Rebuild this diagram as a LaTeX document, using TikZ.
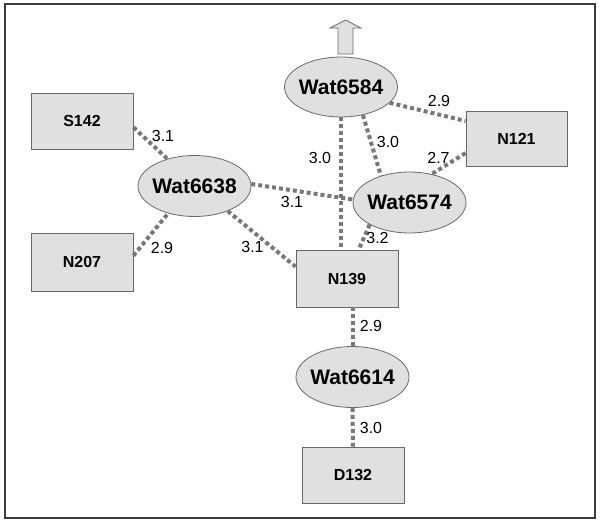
\documentclass[tikz,border=0pt]{standalone}
\usepackage{fontspec}
\setmainfont{Liberation Sans}
\usetikzlibrary{shapes.geometric}
\definecolor{boxfill}{RGB}{224,224,224}
\definecolor{boxline}{RGB}{105,105,105}
\definecolor{conncol}{RGB}{120,120,120}
\definecolor{framecol}{RGB}{60,60,60}
\newcommand\wlab[1]{\makebox[0pt]{#1}}
\begin{document}
\begin{tikzpicture}[x=1pt,y=-1pt,
  resbox/.style={draw=boxline, fill=boxfill, line width=0.8pt, minimum width=102pt, minimum height=56pt, inner sep=0pt, font=\fontsize{16}{19}\selectfont\bfseries},
  water/.style={ellipse, draw=boxline, fill=boxfill, line width=0.8pt, minimum width=113pt, minimum height=61pt, inner sep=0pt, font=\fontsize{21}{25}\selectfont\bfseries},
  conn/.style={draw=conncol, line width=4pt, dash pattern=on 4pt off 3pt},
  dist/.style={inner sep=0pt, font=\fontsize{16}{19}\selectfont}]
\useasboundingbox (0,0) rectangle (601,524);
\draw[framecol, line width=2pt] (4.5,4.5) rectangle (594.5,517.5);

% up arrow
\draw[boxline, fill=boxfill, line width=0.8pt] (338,54) -- (338,28) -- (330,28) -- (345.5,20) -- (361,28) -- (353,28) -- (353,54) -- cycle;

% residues
\node[resbox] (s142) at (82,121) {S142};
\node[resbox, minimum height=58pt] (n207) at (82,262) {N207};
\node[resbox, minimum width=101pt, minimum height=55pt] (n121) at (516.5,138.5) {N121};
\node[resbox, minimum height=57pt] (n139) at (347,278.5) {N139};
\node[resbox] (d132) at (353,475) {D132};

% waters
\node[water, minimum height=60pt] (w6584) at (341,87) {\wlab{Wat6584}};
\node[water] (w6638) at (194.5,186) {\wlab{Wat6638}};
\node[water] (w6574) at (409.5,202.5) {\wlab{Wat6574}};
\node[water] (w6614) at (352.5,377) {\wlab{Wat6614}};

% connectors
\draw[conn] (s142.-7.8) -- (w6638.135.5);
\draw[conn] (n207.7.8) -- (w6638.226.5);
\draw[conn] (w6638.2) -- (w6574.177.5);
\draw[conn] (w6638.-37.8) -- (n139.167.3);
\draw[conn] (w6584.south) -- (w6584.south |- n139.north);
\draw[conn] (w6584.-52) -- (w6574.137);
\draw[conn] (w6584.-18.4) -- (n121.161.9);
\draw[conn] (n121.196) -- (w6574.52.7);
\draw[conn] (w6574.209.7) -- (n139.68.9);
\draw[conn] (n139.south -| w6614.north) -- (w6614.north);
\draw[conn] (w6614.south) -- (d132.north);

% distances
\node[dist] (l1) at (163,135.5) {3.1};
\node[dist] (l2) at (162,248) {2.9};
\node[dist] (l3) at (292,202) {3.1};
\node[dist] (l4) at (252.5,246.5) {3.1};
\node[dist] (l5) at (320,158) {3.0};
\node[dist] (l6) at (388,141.5) {3.0};
\node[dist] (l7) at (438.5,158) {2.7};
\node[dist] (l8) at (377.5,237.5) {3.2};
\node[dist] (l9) at (439,101) {2.9};
\node[dist] (l10) at (371,326) {2.9};
\node[dist] (l11) at (371,428) {3.0};
\end{tikzpicture}
\end{document}
